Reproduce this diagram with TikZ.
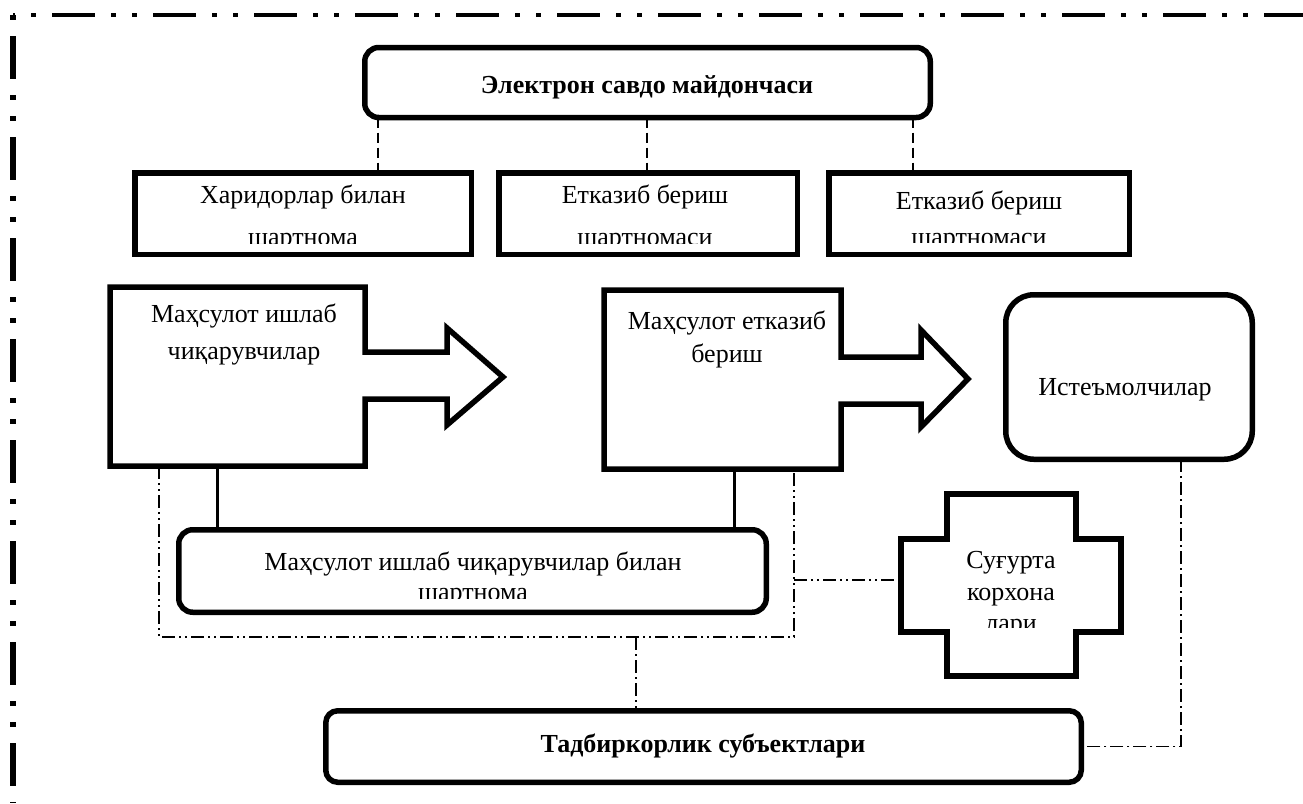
\documentclass[tikz,border=0pt]{standalone}
\usepackage{fontspec}
\setmainfont{Liberation Serif}
\begin{document}
\begin{tikzpicture}[x=1pt,y=-1pt,
  sqbox/.style={draw, line width=5.5pt, inner sep=0pt, outer sep=0pt},
  rbox/.style={sqbox, rounded corners=14pt},
  txt/.style={inner sep=0pt, anchor=base, font=\fontsize{26}{31}\selectfont},
  btxt/.style={inner sep=0pt, anchor=base, font=\fontsize{26}{31}\selectfont\bfseries},
  dashedconn/.style={line width=2pt, dash pattern=on 10pt off 5pt},
  solidconn/.style={line width=3pt},
  ddconn/.style={line width=1.8pt, dash pattern=on 13pt off 4pt on 2pt off 4pt on 2pt off 4pt},
  dconn/.style={line width=1.8pt, dash pattern=on 13pt off 4pt on 2pt off 4pt},
  frame/.style={dash pattern=on 43pt off 16pt on 5pt off 16pt on 5pt off 16pt},
  shapeline/.style={line width=5.5pt, line join=miter}]
\useasboundingbox (0,0) rectangle (1303,803);
\fill[white] (0,0) rectangle (1303,803);

% outer frame
\coordinate (f0) at (13,15);
\coordinate (fl) at (13,803);
\coordinate (fr) at (1303,15);
\draw[frame, line width=5.5pt, dash phase=80pt] (f0) -- (fl);
\draw[frame, line width=4pt, dash phase=62pt] (f0) -- (fr);

% top box
\node[rbox, minimum width=565.5pt, minimum height=70pt] (T) at (647.5,82.5) {};
\node[btxt] (tT) at (647,93) {Электрон савдо майдончаси};

% second row
\node[sqbox, minimum width=336.5pt, minimum height=81.5pt] (A) at (303,213.5) {};
\node[sqbox, minimum width=298.5pt, minimum height=81.5pt] (B) at (648,213.5) {};
\node[sqbox, minimum width=300.5pt, minimum height=81.5pt] (C) at (979,213.5) {};
\begin{scope}
  \clip (137,176) rectangle (469,243);
  \node[txt] (tA1) at (303,203) {Харидорлар билан};
  \node[txt] (tA2) at (303,245) {шартнома};
\end{scope}
\begin{scope}
  \clip (501,176) rectangle (795,243);
  \node[txt] (tB1) at (645,203) {Етказиб бериш};
  \node[txt] (tB2) at (645,245) {шартномаси};
\end{scope}
\begin{scope}
  \clip (831,176) rectangle (1127,242);
  \node[txt] (tC1) at (979,209) {Етказиб бериш};
  \node[txt] (tC2) at (979,245) {шартномаси};
\end{scope}

\coordinate (k1) at (378,0);
\coordinate (k2) at (647,0);
\coordinate (k3) at (913,0);
\draw[dashedconn] (T.south -| k1) -- (A.north -| k1);
\draw[dashedconn] (T.south -| k2) -- (B.north -| k2);
\draw[dashedconn] (T.south -| k3) -- (C.north -| k3);

% block arrows
\draw[shapeline] (110,287) -- (365,287) -- (365,352) -- (447,352) -- (447,328)
  -- (503,377) -- (447,425) -- (447,399) -- (365,399) -- (365,466) -- (110,466) -- cycle;
\node[txt] (tP1) at (244,322) {Маҳсулот ишлаб};
\node[txt] (tP2) at (244,359) {чиқарувчилар};
\draw[shapeline] (604,290) -- (841,290) -- (841,357) -- (921,357) -- (921,330)
  -- (968,379) -- (921,427) -- (921,404) -- (841,404) -- (841,469) -- (604,469) -- cycle;
\node[txt] (tQ1) at (727,329) {Маҳсулот етказиб};
\node[txt] (tQ2) at (727,362) {бериш};
\coordinate (p1l) at (159,466);
\coordinate (p1s) at (217,466);
\coordinate (p2s) at (734,469);
\coordinate (p2r) at (794,469);

% consumers
\node[sqbox, rounded corners=28pt, minimum width=246.5pt, minimum height=164.5pt] (I) at (1129,377) {};
\node[txt] (tI) at (1125,395) {Истеъмолчилар};

% contract with producers
\node[rbox, minimum width=587.5pt, minimum height=82.5pt] (D) at (472.5,571) {};
\begin{scope}
  \clip (181,532) rectangle (764,598);
  \node[txt] (tD1) at (473,570) {Маҳсулот ишлаб чиқарувчилар билан};
  \node[txt] (tD2) at (473,600) {шартнома};
\end{scope}
\draw[solidconn] (p1s) -- (p1s |- D.north);
\draw[solidconn] (p2s) -- (p2s |- D.north);

% insurance cross
\draw[shapeline] (947,494) -- (1076,494) -- (1076,539) -- (1121,539) -- (1121,632)
  -- (1076,632) -- (1076,676) -- (947,676) -- (947,632) -- (901,632) -- (901,539)
  -- (947,539) -- cycle;
\coordinate (xl) at (901,580);
\begin{scope}
  \clip (951,498) rectangle (1072,627);
  \node[txt] (tX1) at (1011,568) {Суғурта};
  \node[txt] (tX2) at (1011,600) {корхона};
  \node[txt] (tX3) at (1011,631) {лари};
\end{scope}

% entrepreneurs
\node[rbox, rounded corners=12pt, minimum width=755.5pt, minimum height=71.5pt] (E) at (703.5,746.5) {};
\node[btxt] (tE) at (703,752) {Тадбиркорлик субъектлари};

% dash-dot connectors
\coordinate (gbl) at (159,637);
\coordinate (gbr) at (794,637);
\coordinate (gm) at (636,637);
\coordinate (gh) at (794,580);
\draw[ddconn] (p1l) -- (gbl) -- (gbr) -- (p2r);
\draw[ddconn] (gh) -- (xl);
\draw[dconn] (gm) -- (gm |- E.north);
\coordinate (ic) at (1181,0);
\draw[dconn] (I.south -| ic) -- (ic |- E.east) -- (E.east);
\end{tikzpicture}
\end{document}
